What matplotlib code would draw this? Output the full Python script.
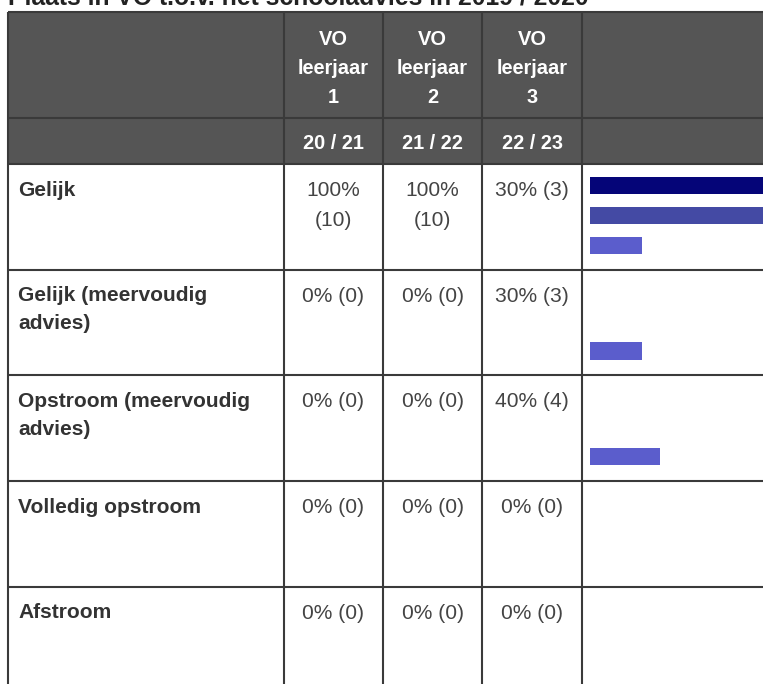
import textwrap
import matplotlib
matplotlib.use("Agg")
import matplotlib.pyplot as plt
from matplotlib.patches import Rectangle

# ---------------- data ----------------
title = "Plaats in VO t.o.v. het schooladvies in 2019 / 2020"
categories = ["Gelijk", "Gelijk (meervoudig advies)", "Opstroom (meervoudig advies)",
              "Volledig opstroom", "Afstroom"]
leerjaar_labels = ["VO\nleerjaar\n1", "VO\nleerjaar\n2", "VO\nleerjaar\n3"]
year_labels = ["20 / 21", "21 / 22", "22 / 23"]
pct_leerjaar1 = [100, 0, 0, 0, 0]
cnt_leerjaar1 = [10, 0, 0, 0, 0]
pct_leerjaar2 = [100, 0, 0, 0, 0]
cnt_leerjaar2 = [10, 0, 0, 0, 0]
pct_leerjaar3 = [30, 30, 40, 0, 0]
cnt_leerjaar3 = [3, 3, 4, 0, 0]
bar_colors = ["#050578", "#444aa4", "#5b5dcc"]

pcts = [pct_leerjaar1, pct_leerjaar2, pct_leerjaar3]
cnts = [cnt_leerjaar1, cnt_leerjaar2, cnt_leerjaar3]

# ---------------- layout (pixels) ----------------
W, H = 763, 684
FONT = ["Liberation Sans", "DejaVu Sans"]
PT = 0.72  # px -> pt at dpi 100

fig = plt.figure(figsize=(W / 100, H / 100), dpi=100)
ax = fig.add_axes([0, 0, 1, 1])
ax.set_xlim(0, W)
ax.set_ylim(H, 0)
ax.axis("off")

left = 8
col_x = [8, 284, 383, 482, 582, 800]
top = 12
hdr1_bot = 118
hdr2_bot = 164
row_h = 105.7
n_rows = len(categories)
row_tops = [hdr2_bot + i * row_h for i in range(n_rows + 1)]
border = "#3a3a3a"
lw = 1.5

# header background
ax.add_patch(Rectangle((left, top), 800, hdr2_bot - top, facecolor="#555555",
                       edgecolor="none", zorder=1))
# horizontal lines
for y in [top, hdr1_bot, hdr2_bot] + row_tops[1:]:
    ax.plot([left, 800], [y, y], color=border, lw=lw, zorder=3, solid_capstyle="butt")
# vertical lines
for x in col_x[:-1]:
    ax.plot([x, x], [top, 800], color=border, lw=lw, zorder=3, solid_capstyle="butt")

# title (clipped at top, as in the reference)
ax.text(left, 4.5, title, fontsize=24.7 * PT, fontweight="bold", color="#222222",
        family=FONT, va="baseline", ha="left", zorder=5)

# header texts
for j, lab in enumerate(leerjaar_labels):
    cx = (col_x[j + 1] + col_x[j + 2]) / 2
    for k, line in enumerate(lab.split("\n")):
        ax.text(cx, 45 + 29 * k, line, fontsize=20 * PT, fontweight="bold", color="white",
                family=FONT, ha="center", va="baseline", zorder=5)
    ax.text(cx, 149, year_labels[j], fontsize=20 * PT, fontweight="bold", color="white",
            family=FONT, ha="center", va="baseline", zorder=5)

# rows
for i, cat in enumerate(categories):
    rt = row_tops[i]
    for k, line in enumerate(textwrap.fill(cat, 20).split("\n")):
        ax.text(18, rt + 31.5 + 28 * k, line, fontsize=21 * PT, fontweight="bold",
                color="#333333", family=FONT, ha="left", va="baseline", zorder=5)
    for j in range(3):
        cx = (col_x[j + 1] + col_x[j + 2]) / 2
        s = f"{pcts[j][i]}% ({cnts[j][i]})"
        lines = s.split(" ") if len(s) > 7 else [s]
        for k, line in enumerate(lines):
            ax.text(cx, rt + 32 + 30 * k, line, fontsize=21 * PT, color="#444444",
                    family=FONT, ha="center", va="baseline", zorder=5)

    # bar cell: an inset axes per row
    bx0, bx1 = 590, 764.5
    by0 = rt + 6.3
    bh = 90
    bax = fig.add_axes([bx0 / W, 1 - (by0 + bh) / H, (bx1 - bx0) / W, bh / H])
    bax.barh([0, 1, 2], [pcts[0][i], pcts[1][i], pcts[2][i]], height=17.4 / 30,
             color=bar_colors, edgecolor="none")
    bax.set_xlim(0, 100)
    bax.set_ylim(2.5, -0.5)
    bax.axis("off")
    bax.patch.set_alpha(0)

fig.savefig("out.png", dpi=100)
